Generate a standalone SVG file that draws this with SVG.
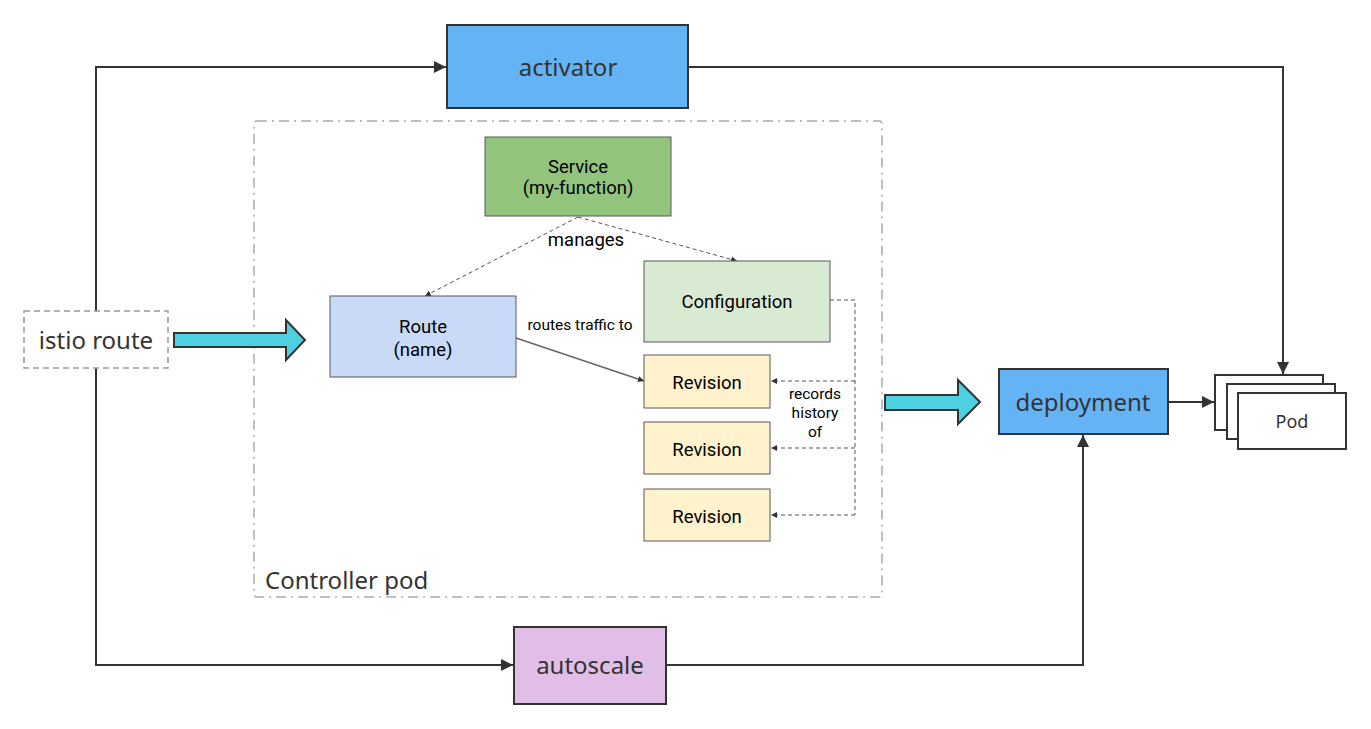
<svg xmlns="http://www.w3.org/2000/svg" width="1371" height="729" viewBox="0 0 1371 729">
  <defs>
    <marker id="arr" viewBox="0 0 10 10" refX="10" refY="5" markerWidth="12" markerHeight="12" markerUnits="userSpaceOnUse" orient="auto">
      <path d="M0,0 L10,5 L0,10 z" fill="#333"/>
    </marker>
    <marker id="arrs" viewBox="0 0 10 10" refX="10" refY="5" markerWidth="6" markerHeight="6" markerUnits="userSpaceOnUse" orient="auto">
      <path d="M0,0 L10,5 L0,10 z" fill="#333"/>
    </marker>
    <style>
      .big { font-family: "Noto Sans", "Open Sans", "DejaVu Sans", sans-serif; font-size: 24px; fill: #333; text-anchor: middle; }
      .small { font-family: Roboto, "Liberation Sans", sans-serif; font-size: 18.5px; fill: #000; text-anchor: middle; }
      .lbl { font-family: Roboto, "Liberation Sans", sans-serif; font-size: 15.5px; fill: #000; text-anchor: middle; }
      .box { stroke: #333; stroke-width: 2; }
      .gbox { stroke: #595959; stroke-width: 1; }
      .wire { fill: none; stroke: #333; stroke-width: 2; }
      .dash { fill: none; stroke: #555; stroke-width: 1; stroke-dasharray: 4 3; }
      .fat { fill: #4dd0e1; stroke: #333; stroke-width: 2; stroke-linejoin: miter; }
    </style>
  </defs>

  <!-- controller pod boundary -->
  <g id="controller-pod">
    <rect x="254" y="121" width="628" height="476" rx="3" fill="none" stroke="#aaa" stroke-width="1.5" stroke-dasharray="10 5 2 5"/>
    <text x="265" y="589" class="big" style="text-anchor:start">Controller pod</text>
  </g>

  <!-- connectors -->
  <g id="connectors">
    <polyline class="wire" points="96,311 96,67 446,67" marker-end="url(#arr)"/>
    <polyline class="wire" points="96,368 96,665 513,665" marker-end="url(#arr)"/>
    <polyline class="wire" points="688,67 1283,67 1283,374" marker-end="url(#arr)"/>
    <polyline class="wire" points="666,665 1083,665 1083,435" marker-end="url(#arr)"/>
    <line class="wire" x1="1168" y1="402" x2="1214" y2="402" marker-end="url(#arr)"/>
    <!-- manages -->
    <line class="dash" x1="578" y1="217" x2="425" y2="296" marker-end="url(#arrs)"/>
    <line class="dash" x1="578" y1="217" x2="737" y2="261" marker-end="url(#arrs)"/>
    <!-- routes traffic to -->
    <line x1="516" y1="338" x2="644" y2="381" stroke="#666" stroke-width="1.5" marker-end="url(#arrs)"/>
    <!-- records history of -->
    <polyline class="dash" points="830,300 855,300 855,515"/>
    <line class="dash" x1="855" y1="381" x2="771" y2="381" marker-end="url(#arrs)"/>
    <line class="dash" x1="855" y1="448" x2="771" y2="448" marker-end="url(#arrs)"/>
    <line class="dash" x1="855" y1="515" x2="771" y2="515" marker-end="url(#arrs)"/>
    <text x="586" y="246" class="small">manages</text>
    <text x="580" y="330" class="lbl">routes traffic to</text>
    <text x="815" y="399" class="lbl">records</text>
    <text x="815" y="418" class="lbl">history</text>
    <text x="815" y="437" class="lbl">of</text>
    <!-- block arrows -->
    <polygon class="fat" points="174,333 286,333 286,320 305,340 286,360 286,347 174,347"/>
    <polygon class="fat" points="885,395 958,395 958,380 980,402 958,424 958,410 885,410"/>
  </g>

  <g id="activator">
    <rect class="box" x="447" y="25" width="241" height="83" fill="#63b3f5"/>
    <text x="568" y="76" class="big">activator</text>
  </g>

  <g id="istio-route">
    <rect x="24" y="311" width="144" height="57" fill="#fff" stroke="#999" stroke-width="1.5" stroke-dasharray="6 4"/>
    <text x="96" y="349" class="big">istio route</text>
  </g>

  <g id="service">
    <rect class="gbox" x="485" y="137" width="186" height="79" fill="#93c47d"/>
    <text x="578" y="173" class="small">Service</text>
    <text x="578" y="194" class="small">(my-function)</text>
  </g>

  <g id="route">
    <rect class="gbox" x="330" y="296" width="186" height="81" fill="#c9daf8"/>
    <text x="423" y="333" class="small">Route</text>
    <text x="423" y="356" class="small">(name)</text>
  </g>

  <g id="configuration">
    <rect class="gbox" x="644" y="261" width="186" height="81" fill="#d9ead3"/>
    <text x="737" y="308" class="small">Configuration</text>
  </g>

  <g id="revision-1">
    <rect class="gbox" x="644" y="355" width="126" height="53" fill="#fff2cc"/>
    <text x="707" y="389" class="small">Revision</text>
  </g>
  <g id="revision-2">
    <rect class="gbox" x="644" y="422" width="126" height="52" fill="#fff2cc"/>
    <text x="707" y="456" class="small">Revision</text>
  </g>
  <g id="revision-3">
    <rect class="gbox" x="644" y="489" width="126" height="52" fill="#fff2cc"/>
    <text x="707" y="523" class="small">Revision</text>
  </g>

  <g id="deployment">
    <rect class="box" x="999" y="369" width="169" height="65" fill="#63b3f5"/>
    <text x="1083" y="411" class="big">deployment</text>
  </g>

  <g id="pods">
    <rect class="box" x="1215" y="375" width="108" height="55" fill="#fff"/>
    <rect class="box" x="1227" y="384" width="108" height="55" fill="#fff"/>
    <rect class="box" x="1238" y="393" width="108" height="56" fill="#fff"/>
    <text x="1292" y="428" class="big" style="font-size:18px">Pod</text>
  </g>

  <g id="autoscale">
    <rect class="box" x="514" y="627" width="152" height="77" fill="#e1bee7"/>
    <text x="590" y="674" class="big">autoscale</text>
  </g>
</svg>
